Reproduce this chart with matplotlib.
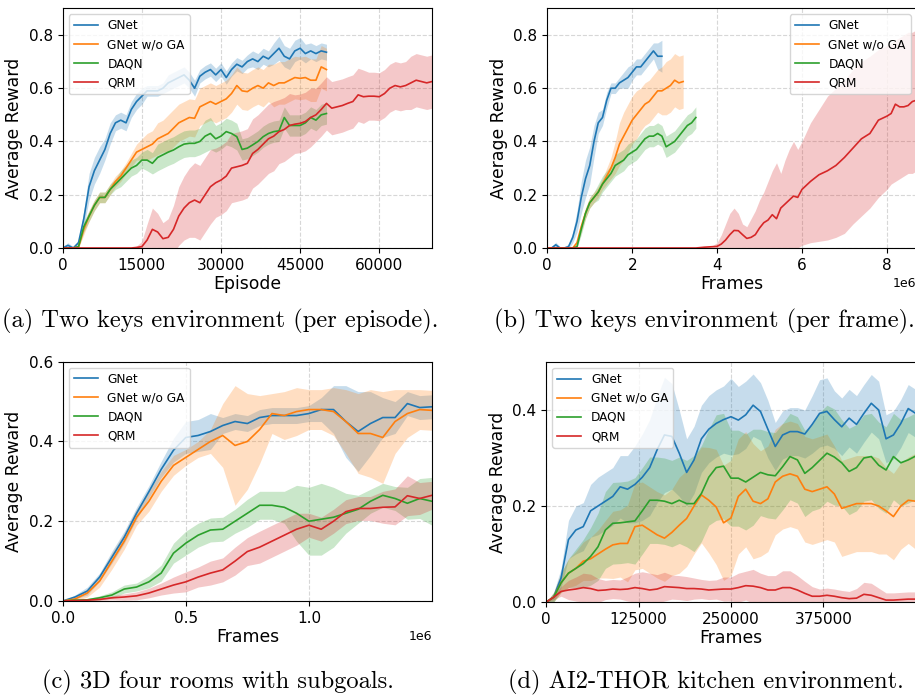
import numpy as np
import matplotlib
matplotlib.use("Agg")
import matplotlib.pyplot as plt

labels = ["GNet", "GNet w/o GA", "DAQN", "QRM"]
colors = ["#1f77b4", "#ff7f0e", "#2ca02c", "#d62728"]

# ---------------- (a) Two keys, per episode ----------------
a_x = np.arange(0, 51) * 1000
a_x_qrm = np.arange(0, 71) * 1000
a_gnet = [0, 0.01, 0.0, 0.02, 0.11, 0.23, 0.29, 0.33, 0.37, 0.43,
          0.47, 0.48, 0.47, 0.52, 0.55, 0.57, 0.59, 0.59, 0.59, 0.60,
          0.62, 0.63, 0.64, 0.65, 0.63, 0.60, 0.645, 0.66, 0.67, 0.65,
          0.67, 0.64, 0.67, 0.69, 0.68, 0.70, 0.71, 0.70, 0.72, 0.71,
          0.73, 0.75, 0.72, 0.71, 0.74, 0.75, 0.73, 0.74, 0.73, 0.74,
          0.735]
a_gnet_sd = [0.005, 0.01, 0.005, 0.01, 0.03, 0.05, 0.05, 0.05, 0.04, 0.04,
             0.03, 0.03, 0.03, 0.03, 0.03, 0.03, 0.02, 0.02, 0.02, 0.02,
             0.03, 0.03, 0.03, 0.03, 0.03, 0.03, 0.025, 0.025, 0.025, 0.025,
             0.025, 0.025, 0.025, 0.025, 0.025, 0.025, 0.03, 0.03, 0.03, 0.03,
             0.04, 0.045, 0.04, 0.04, 0.04, 0.04, 0.035, 0.03, 0.03, 0.03,
             0.03]
a_noga = [0, 0, 0, 0.005, 0.07, 0.12, 0.16, 0.19, 0.19, 0.22,
          0.25, 0.27, 0.30, 0.33, 0.36, 0.37, 0.38, 0.39, 0.41, 0.42,
          0.43, 0.45, 0.47, 0.48, 0.49, 0.487, 0.53, 0.54, 0.55, 0.54,
          0.55, 0.56, 0.58, 0.61, 0.59, 0.587, 0.60, 0.61, 0.60, 0.62,
          0.61, 0.62, 0.62, 0.63, 0.64, 0.637, 0.64, 0.63, 0.63, 0.68,
          0.67]
a_noga_sd = [0, 0, 0, 0.005, 0.02, 0.02, 0.02, 0.02, 0.02, 0.02,
             0.02, 0.02, 0.02, 0.025, 0.03, 0.04, 0.05, 0.05, 0.06, 0.06,
             0.07, 0.07, 0.07, 0.07, 0.07, 0.07, 0.07, 0.07, 0.07, 0.07,
             0.07, 0.07, 0.07, 0.07, 0.07, 0.07, 0.07, 0.07, 0.07, 0.07,
             0.08, 0.08, 0.08, 0.08, 0.08, 0.08, 0.08, 0.08, 0.08, 0.08,
             0.08]
a_daqn = [0, 0, 0, 0.005, 0.08, 0.12, 0.16, 0.19, 0.19, 0.22,
          0.24, 0.26, 0.28, 0.30, 0.31, 0.33, 0.33, 0.318, 0.34, 0.35,
          0.36, 0.368, 0.38, 0.39, 0.393, 0.393, 0.40, 0.42, 0.43, 0.41,
          0.42, 0.437, 0.43, 0.418, 0.37, 0.375, 0.387, 0.40, 0.418, 0.43,
          0.437, 0.44, 0.49, 0.46, 0.46, 0.46, 0.47, 0.49, 0.48, 0.50,
          0.505]
a_daqn_sd = [0, 0, 0, 0.005, 0.02, 0.02, 0.02, 0.02, 0.02, 0.02,
             0.02, 0.03, 0.03, 0.03, 0.03, 0.03, 0.04, 0.04, 0.05, 0.05,
             0.05, 0.05, 0.05, 0.05, 0.05, 0.05, 0.05, 0.06, 0.06, 0.05,
             0.05, 0.05, 0.05, 0.05, 0.04, 0.04, 0.04, 0.04, 0.04, 0.04,
             0.04, 0.04, 0.04, 0.04, 0.04, 0.04, 0.04, 0.04, 0.04, 0.04,
             0.04]
a_qrm = [0, 0, 0, 0, 0, 0, 0, 0, 0, 0,
         0, 0, 0, 0, 0.002, 0.005, 0.03, 0.07, 0.06, 0.035,
         0.04, 0.07, 0.12, 0.15, 0.17, 0.18, 0.17, 0.20, 0.23, 0.245,
         0.255, 0.27, 0.30, 0.305, 0.31, 0.318, 0.355, 0.37, 0.39, 0.41,
         0.42, 0.437, 0.445, 0.46, 0.465, 0.468, 0.475, 0.49, 0.50, 0.52,
         0.543, 0.525, 0.53, 0.535, 0.543, 0.55, 0.575, 0.568, 0.57, 0.57,
         0.568, 0.58, 0.60, 0.61, 0.605, 0.61, 0.62, 0.63, 0.625, 0.62,
         0.625]
a_qrm_sd = [0, 0, 0, 0, 0, 0, 0, 0, 0, 0,
            0, 0, 0, 0, 0.005, 0.02, 0.06, 0.08, 0.07, 0.06,
            0.07, 0.09, 0.11, 0.12, 0.13, 0.14, 0.14, 0.14, 0.14, 0.13,
            0.13, 0.13, 0.13, 0.13, 0.13, 0.13, 0.13, 0.13, 0.13, 0.13,
            0.13, 0.12, 0.12, 0.12, 0.11, 0.11, 0.11, 0.11, 0.10, 0.10,
            0.10, 0.10, 0.10, 0.10, 0.10, 0.10, 0.10, 0.10, 0.09, 0.09,
            0.09, 0.09, 0.09, 0.09, 0.09, 0.09, 0.10, 0.10, 0.10, 0.10,
            0.10]

# ---------------- (b) Two keys, per frame ----------------
b_x_gnet = np.arange(0, 28) * 0.1e6
b_gnet = [0, 0, 0.012, 0, 0, 0.005, 0.04, 0.10, 0.19, 0.26,
          0.31, 0.40, 0.47, 0.49, 0.555, 0.60, 0.60, 0.62, 0.63, 0.64,
          0.66, 0.68, 0.68, 0.70, 0.72, 0.74, 0.72, 0.72]
b_gnet_sd = [0.005, 0.005, 0.01, 0.005, 0.005, 0.01, 0.02, 0.04, 0.06, 0.07,
             0.07, 0.06, 0.04, 0.03, 0.03, 0.02, 0.02, 0.02, 0.03, 0.04,
             0.03, 0.03, 0.03, 0.03, 0.03, 0.03, 0.05, 0.06]
b_x_noga = np.arange(0, 33) * 0.1e6
b_noga = [0, 0, 0, 0, 0, 0, 0, 0.02, 0.08, 0.13,
          0.17, 0.19, 0.21, 0.24, 0.27, 0.30, 0.34, 0.39, 0.42, 0.45,
          0.48, 0.50, 0.52, 0.54, 0.55, 0.57, 0.59, 0.59, 0.60, 0.61,
          0.63, 0.62, 0.625]
b_noga_sd = [0, 0, 0, 0, 0, 0, 0, 0.01, 0.02, 0.02,
             0.02, 0.02, 0.02, 0.02, 0.03, 0.04, 0.06, 0.08, 0.09, 0.09,
             0.09, 0.09, 0.08, 0.08, 0.08, 0.08, 0.08, 0.09, 0.10, 0.10,
             0.10, 0.10, 0.10]
b_x_daqn = np.arange(0, 36) * 0.1e6
b_daqn = [0, 0, 0, 0, 0, 0, 0, 0.005, 0.07, 0.13,
          0.17, 0.19, 0.21, 0.24, 0.26, 0.28, 0.31, 0.32, 0.33, 0.35,
          0.36, 0.37, 0.39, 0.41, 0.42, 0.42, 0.43, 0.42, 0.38, 0.39,
          0.40, 0.42, 0.44, 0.46, 0.47, 0.49]
b_daqn_sd = [0, 0, 0, 0, 0, 0, 0, 0.005, 0.02, 0.02,
             0.02, 0.02, 0.03, 0.03, 0.03, 0.03, 0.04, 0.04, 0.04, 0.04,
             0.04, 0.04, 0.04, 0.04, 0.04, 0.04, 0.04, 0.04, 0.04, 0.04,
             0.04, 0.04, 0.04, 0.04, 0.04, 0.04]
b_x_qrm = np.array([0, 3.5, 3.7, 3.9,
                    4.0, 4.1, 4.2, 4.3, 4.4, 4.5, 4.6, 4.7, 4.8, 4.9, 5.0,
                    5.1, 5.2, 5.3, 5.4, 5.5, 5.6, 5.7, 5.8, 5.9, 6.0,
                    6.2, 6.4, 6.6, 6.8, 7.0, 7.2, 7.4, 7.6, 7.8, 8.0,
                    8.1, 8.2, 8.3, 8.4, 8.5, 8.6, 8.7]) * 1e6
b_qrm = [0, 0, 0.003, 0.005,
         0.006, 0.015, 0.03, 0.05, 0.066, 0.065, 0.05, 0.036, 0.04, 0.05, 0.075,
         0.095, 0.105, 0.125, 0.11, 0.15, 0.165, 0.18, 0.195, 0.19, 0.22,
         0.25, 0.275, 0.29, 0.31, 0.34, 0.375, 0.41, 0.43, 0.48, 0.495,
         0.505, 0.54, 0.53, 0.53, 0.535, 0.55, 0.555]
b_qrm_hi = [0, 0, 0.005, 0.01,
            0.02, 0.05, 0.09, 0.13, 0.15, 0.13, 0.09, 0.08, 0.11, 0.14, 0.18,
            0.21, 0.25, 0.29, 0.32, 0.28, 0.33, 0.37, 0.40, 0.37, 0.40,
            0.47, 0.52, 0.57, 0.60, 0.63, 0.67, 0.70, 0.72, 0.745, 0.76,
            0.77, 0.78, 0.79, 0.80, 0.81, 0.81, 0.82]
b_qrm_lo = [0, 0, 0, 0,
            0, 0, 0, 0, 0, 0, 0, 0, 0, 0, 0,
            0, 0, 0, 0, 0, 0, 0, 0, 0, 0.01,
            0.02, 0.025, 0.03, 0.04, 0.055, 0.09, 0.12, 0.15, 0.19, 0.22,
            0.24, 0.25, 0.26, 0.27, 0.28, 0.28, 0.29]

# ---------------- (c) 3D four rooms ----------------
c_x = np.arange(0, 31) * 0.05e6
c_gnet = [0, 0.01, 0.025, 0.06, 0.11, 0.16, 0.22, 0.274, 0.33, 0.378,
          0.41, 0.415, 0.425, 0.44, 0.45, 0.445, 0.46, 0.465, 0.465, 0.465,
          0.47, 0.48, 0.48, 0.45, 0.425, 0.445, 0.46, 0.46, 0.495, 0.485,
          0.487]
c_gnet_sd = [0, 0.005, 0.01, 0.01, 0.015, 0.015, 0.015, 0.015, 0.02, 0.03,
             0.04, 0.04, 0.045, 0.02, 0.02, 0.02, 0.02, 0.02, 0.02, 0.02,
             0.02, 0.03, 0.06, 0.09, 0.10, 0.08, 0.05, 0.04, 0.03, 0.03,
             0.03]
c_noga = [0, 0.005, 0.02, 0.05, 0.10, 0.15, 0.21, 0.25, 0.30, 0.34,
          0.36, 0.38, 0.40, 0.415, 0.39, 0.40, 0.43, 0.47, 0.465, 0.475,
          0.48, 0.48, 0.475, 0.45, 0.42, 0.42, 0.41, 0.45, 0.47, 0.48,
          0.478]
c_noga_sd = [0, 0.005, 0.01, 0.015, 0.02, 0.02, 0.02, 0.025, 0.025, 0.025,
             0.02, 0.02, 0.03, 0.08, 0.15, 0.12, 0.085, 0.05, 0.06, 0.06,
             0.05, 0.05, 0.06, 0.08, 0.10, 0.11, 0.115, 0.08, 0.06, 0.05,
             0.05]
c_daqn = [0, 0.002, 0.003, 0.008, 0.015, 0.03, 0.035, 0.048, 0.07, 0.12,
          0.145, 0.165, 0.178, 0.18, 0.20, 0.22, 0.24, 0.24, 0.235, 0.22,
          0.20, 0.205, 0.21, 0.22, 0.23, 0.25, 0.265, 0.257, 0.245, 0.257,
          0.25]
c_daqn_sd = [0, 0.002, 0.003, 0.005, 0.008, 0.01, 0.01, 0.015, 0.02, 0.025,
             0.03, 0.03, 0.03, 0.03, 0.03, 0.035, 0.035, 0.035, 0.04, 0.07,
             0.085, 0.09, 0.075, 0.05, 0.035, 0.03, 0.03, 0.03, 0.04, 0.05,
             0.06]
c_qrm = [0, 0.001, 0.002, 0.004, 0.008, 0.01, 0.013, 0.02, 0.03, 0.04,
         0.048, 0.06, 0.07, 0.078, 0.10, 0.124, 0.135, 0.15, 0.165, 0.18,
         0.19, 0.18, 0.20, 0.224, 0.232, 0.232, 0.235, 0.236, 0.264, 0.257,
         0.265]
c_qrm_sd = [0, 0.001, 0.002, 0.003, 0.005, 0.008, 0.01, 0.012, 0.015, 0.02,
            0.025, 0.025, 0.03, 0.03, 0.035, 0.035, 0.04, 0.04, 0.04, 0.04,
            0.03, 0.03, 0.03, 0.03, 0.03, 0.03, 0.04, 0.045, 0.05, 0.04,
            0.035]

# ---------------- (d) AI2-THOR kitchen ----------------
d_x = np.arange(0, 51) * 10000
d_gnet = [0, 0.01, 0.05, 0.13, 0.15, 0.157, 0.19, 0.20, 0.21, 0.22,
          0.24, 0.235, 0.245, 0.26, 0.28, 0.317, 0.348, 0.345, 0.31, 0.27,
          0.296, 0.34, 0.36, 0.372, 0.38, 0.386, 0.379, 0.39, 0.41, 0.397,
          0.36, 0.324, 0.348, 0.355, 0.355, 0.35, 0.37, 0.393, 0.397, 0.38,
          0.365, 0.383, 0.37, 0.393, 0.414, 0.40, 0.34, 0.348, 0.372, 0.403,
          0.393]
d_gnet_sd = [0, 0.01, 0.02, 0.04, 0.05, 0.05, 0.055, 0.06, 0.06, 0.06,
             0.065, 0.07, 0.08, 0.09, 0.10, 0.11, 0.12, 0.11, 0.09, 0.07,
             0.07, 0.07, 0.07, 0.07, 0.07, 0.08, 0.07, 0.07, 0.065, 0.06,
             0.06, 0.05, 0.05, 0.05, 0.05, 0.05, 0.06, 0.07, 0.07, 0.06,
             0.06, 0.06, 0.06, 0.06, 0.06, 0.06, 0.05, 0.05, 0.05, 0.05,
             0.05]
d_noga = [0, 0.01, 0.04, 0.06, 0.07, 0.085, 0.09, 0.10, 0.11, 0.119,
          0.122, 0.122, 0.157, 0.16, 0.15, 0.14, 0.133, 0.145, 0.16, 0.174,
          0.20, 0.223, 0.212, 0.198, 0.165, 0.175, 0.22, 0.235, 0.21, 0.205,
          0.215, 0.25, 0.262, 0.267, 0.262, 0.235, 0.23, 0.235, 0.24, 0.225,
          0.195, 0.20, 0.205, 0.205, 0.205, 0.20, 0.19, 0.178, 0.20, 0.212,
          0.21]
d_noga_sd = [0, 0.01, 0.02, 0.03, 0.035, 0.04, 0.045, 0.05, 0.06, 0.07,
             0.07, 0.08, 0.09, 0.09, 0.09, 0.09, 0.09, 0.09, 0.10, 0.10,
             0.10, 0.10, 0.11, 0.12, 0.12, 0.12, 0.12, 0.12, 0.12, 0.11,
             0.11, 0.11, 0.11, 0.11, 0.11, 0.11, 0.11, 0.11, 0.11, 0.10,
             0.10, 0.10, 0.10, 0.10, 0.10, 0.10, 0.09, 0.09, 0.09, 0.09,
             0.10]
d_daqn = [0, 0.01, 0.04, 0.06, 0.07, 0.08, 0.095, 0.115, 0.15, 0.164,
          0.165, 0.167, 0.169, 0.19, 0.212, 0.212, 0.21, 0.205, 0.212, 0.205,
          0.205, 0.226, 0.26, 0.28, 0.283, 0.258, 0.258, 0.25, 0.26, 0.27,
          0.265, 0.263, 0.282, 0.303, 0.296, 0.268, 0.28, 0.295, 0.31, 0.302,
          0.29, 0.272, 0.28, 0.30, 0.303, 0.285, 0.275, 0.303, 0.29, 0.296,
          0.304]
d_daqn_sd = [0, 0.01, 0.02, 0.03, 0.04, 0.05, 0.06, 0.07, 0.08, 0.085,
             0.085, 0.085, 0.09, 0.09, 0.09, 0.09, 0.09, 0.09, 0.09, 0.09,
             0.10, 0.10, 0.10, 0.11, 0.11, 0.10, 0.10, 0.10, 0.10, 0.09,
             0.09, 0.09, 0.09, 0.09, 0.09, 0.09, 0.09, 0.10, 0.10, 0.10,
             0.09, 0.09, 0.09, 0.09, 0.09, 0.09, 0.09, 0.09, 0.09, 0.09,
             0.09]
d_qrm = [0, 0.01, 0.022, 0.025, 0.027, 0.03, 0.028, 0.024, 0.025, 0.027,
         0.026, 0.027, 0.03, 0.028, 0.025, 0.027, 0.032, 0.031, 0.03, 0.028,
         0.028, 0.027, 0.025, 0.026, 0.027, 0.027, 0.03, 0.034, 0.033, 0.03,
         0.025, 0.025, 0.03, 0.03, 0.025, 0.018, 0.012, 0.012, 0.014, 0.012,
         0.009, 0.007, 0.008, 0.016, 0.014, 0.009, 0.004, 0.004, 0.005, 0.006,
         0.006]
d_qrm_sd = [0, 0.005, 0.01, 0.02, 0.025, 0.03, 0.03, 0.025, 0.02, 0.02,
            0.02, 0.025, 0.03, 0.035, 0.035, 0.03, 0.03, 0.025, 0.025, 0.025,
            0.022, 0.02, 0.02, 0.02, 0.025, 0.025, 0.03, 0.03, 0.035, 0.03,
            0.03, 0.03, 0.035, 0.035, 0.03, 0.025, 0.02, 0.015, 0.015, 0.015,
            0.015, 0.015, 0.02, 0.025, 0.025, 0.02, 0.015, 0.015, 0.015, 0.015,
            0.015]

captions = ["(a) Two keys environment (per episode).",
            "(b) Two keys environment (per frame).",
            "(c) 3D four rooms with subgoals.",
            "(d) AI2-THOR kitchen environment."]

W, H = 915, 695
fig = plt.figure(figsize=(W / 100, H / 100), dpi=100)


def box(l, t, r, b):
    return [l / W, 1 - b / H, (r - l) / W, (b - t) / H]


axA = fig.add_axes(box(62.7, 8.3, 432, 248))
axB = fig.add_axes(box(547.3, 8.3, 916.6, 248))
axC = fig.add_axes(box(62.7, 361.7, 432, 601))
axD = fig.add_axes(box(546.3, 362, 915.6, 602))

LW = 1.2
ALPHA = 0.25


def draw(ax, series):
    for (x, y, lo, hi), lab, col in zip(series, labels, colors):
        x = np.asarray(x, float)
        ax.fill_between(x, lo, hi, color=col, alpha=ALPHA, linewidth=0)
        ax.plot(x, y, color=col, lw=LW, label=lab)


def sym(x, y, sd):
    y = np.asarray(y, float)
    sd = np.asarray(sd, float)
    return (x, y, y - sd, y + sd)


draw(axA, [sym(a_x, a_gnet, a_gnet_sd), sym(a_x, a_noga, a_noga_sd),
           sym(a_x, a_daqn, a_daqn_sd), sym(a_x_qrm, a_qrm, a_qrm_sd)])
draw(axB, [sym(b_x_gnet, b_gnet, b_gnet_sd), sym(b_x_noga, b_noga, b_noga_sd),
           sym(b_x_daqn, b_daqn, b_daqn_sd),
           (b_x_qrm, np.asarray(b_qrm), np.asarray(b_qrm_lo), np.asarray(b_qrm_hi))])
draw(axC, [sym(c_x, c_gnet, c_gnet_sd), sym(c_x, c_noga, c_noga_sd),
           sym(c_x, c_daqn, c_daqn_sd), sym(c_x, c_qrm, c_qrm_sd)])
draw(axD, [sym(d_x, d_gnet, d_gnet_sd), sym(d_x, d_noga, d_noga_sd),
           sym(d_x, d_daqn, d_daqn_sd), sym(d_x, d_qrm, d_qrm_sd)])

axA.set_xlim(0, 70000); axA.set_ylim(0, 0.9)
axA.set_xticks([0, 15000, 30000, 45000, 60000]); axA.set_yticks([0, 0.2, 0.4, 0.6, 0.8])
axA.set_xlabel("Episode")
axB.set_xlim(0, 8.7e6); axB.set_ylim(0, 0.9)
axB.set_xticks([0, 2e6, 4e6, 6e6, 8e6]); axB.set_yticks([0, 0.2, 0.4, 0.6, 0.8])
axB.set_xlabel("Frames")
axC.set_xlim(0, 1.5e6); axC.set_ylim(0, 0.6)
axC.set_xticks([0, 0.5e6, 1.0e6]); axC.set_yticks([0, 0.2, 0.4, 0.6])
axC.set_xlabel("Frames")
axD.set_xlim(0, 500000); axD.set_ylim(0, 0.5)
axD.set_xticks([0, 125000, 250000, 375000]); axD.set_yticks([0, 0.2, 0.4])
axD.set_xlabel("Frames")

for ax, loc in zip([axA, axB, axC, axD], ["upper left", "upper right", "upper left", "upper left"]):
    ax.set_ylabel("Average Reward", fontsize=12.4)
    ax.xaxis.label.set_fontsize(12.4)
    ax.xaxis.labelpad = 1.5
    ax.tick_params(labelsize=11)
    ax.grid(True, linestyle="--", alpha=0.5)
    ax.set_axisbelow(True)
    ax.xaxis.get_offset_text().set_fontsize(9)
    ax.legend(loc=loc, fontsize=8.7)

axD.yaxis.set_major_formatter(matplotlib.ticker.FormatStrFormatter("%.1f"))

cap_font = dict(family=["cmr10", "DejaVu Serif"], fontsize=17.6, ha="center", va="center")
fig.text(220 / W, 1 - 321 / H, captions[0], **cap_font)
fig.text(704 / W, 1 - 321 / H, captions[1], **cap_font)
fig.text(218 / W, 1 - 682 / H, captions[2], **cap_font)
fig.text(706 / W, 1 - 682 / H, captions[3], **cap_font)

fig.savefig("out.png", dpi=100)
